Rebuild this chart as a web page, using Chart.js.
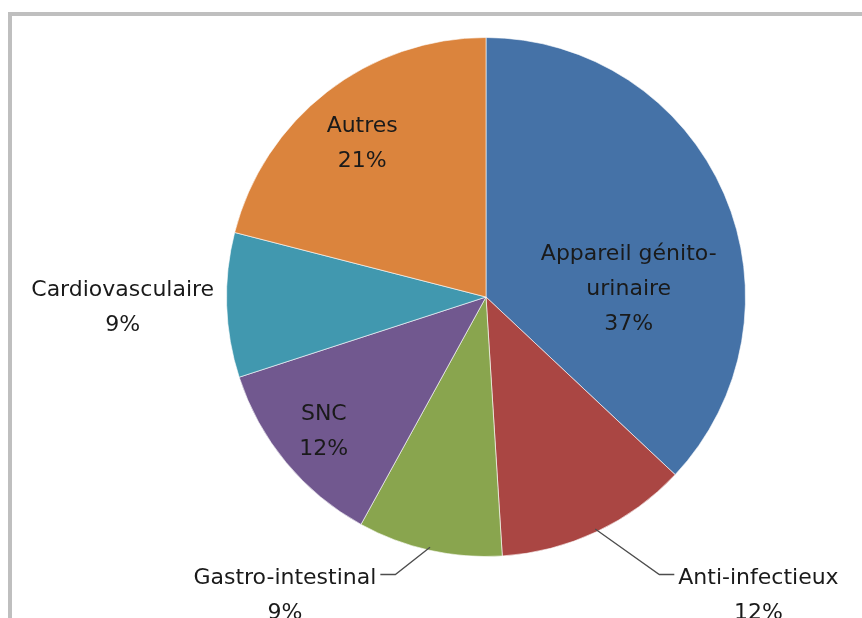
<!DOCTYPE html>
<html>
<head>
<meta charset="utf-8">
<script src="https://cdn.jsdelivr.net/npm/chart.js@4/dist/chart.umd.min.js"></script>
<style>
  html, body { margin: 0; padding: 0; background: #ffffff; }
  canvas { display: block; }
</style>
</head>
<body>
<canvas id="c" width="862" height="618"></canvas>
<script>
// ---- data ----
const categories = ["Appareil génito-urinaire", "Anti-infectieux", "Gastro-intestinal", "SNC", "Cardiovasculaire", "Autres"];
const labelLines = [["Appareil génito-", "urinaire"], ["Anti-infectieux"], ["Gastro-intestinal"], ["SNC"], ["Cardiovasculaire"], ["Autres"]];
const shares = [37, 12, 9, 12, 9, 21];

// ---- styles ----
const colors = ["#4572A7", "#AA4643", "#89A54E", "#71588F", "#4198AF", "#DB843D"];
// label anchor offsets in units of the pie radius, and whether a leader line is drawn
const labelPos = [
  { fx: 0.55, fy: -0.03 },
  { fx: 1.05, fy: 1.15, leader: true },
  { fx: -0.775, fy: 1.15, leader: true },
  { fx: -0.625, fy: 0.52 },
  { fx: -1.4, fy: 0.04 },
  { fx: -0.477, fy: -0.59 }
];
const FONT = '22px "DejaVu Sans", "Open Sans", sans-serif';
const LINE_H = 35;

const framePlugin = {
  id: 'frame',
  beforeDraw(chart) {
    const ctx = chart.ctx;
    ctx.save();
    ctx.fillStyle = '#bfbfbf';
    ctx.fillRect(8, 12, chart.width - 8, 4);
    ctx.fillRect(8, 12, 4, chart.height - 12);
    ctx.restore();
  }
};

const labelPlugin = {
  id: 'sliceLabels',
  afterDatasetsDraw(chart) {
    const ctx = chart.ctx;
    const meta = chart.getDatasetMeta(0);
    const total = shares.reduce((a, b) => a + b, 0);
    ctx.save();
    ctx.font = FONT;
    ctx.fillStyle = '#1a1a1a';
    ctx.textAlign = 'center';
    ctx.textBaseline = 'middle';
    meta.data.forEach((arc, i) => {
      const cx = arc.x, cy = arc.y, r = arc.outerRadius;
      const p = labelPos[i];
      const lx = cx + p.fx * r, ly = cy + p.fy * r;
      const lines = labelLines[i].concat([Math.round(shares[i] / total * 100) + '%']);
      const top = ly - (lines.length - 1) * LINE_H / 2;
      lines.forEach((t, k) => ctx.fillText(t, lx, top + k * LINE_H));
      if (p.leader) {
        const mid = (arc.startAngle + arc.endAngle) / 2;
        const ex = cx + Math.cos(mid) * (r - 3), ey = cy + Math.sin(mid) * (r - 3);
        const w = ctx.measureText(labelLines[i][0]).width;
        const side = p.fx > 0 ? -1 : 1;
        const tx = lx + side * (w / 2 + 4);
        const hx = tx + side * 15;
        const yy = Math.round(top - 4) + 0.5;
        ctx.strokeStyle = '#4d4d4d';
        ctx.lineWidth = 1.3;
        ctx.beginPath();
        ctx.moveTo(ex, ey);
        ctx.lineTo(hx, yy);
        ctx.lineTo(tx, yy);
        ctx.stroke();
      }
    });
    ctx.restore();
  }
};

new Chart(document.getElementById('c'), {
  type: 'pie',
  data: {
    labels: categories,
    datasets: [{
      data: shares,
      backgroundColor: colors,
      borderColor: 'rgba(255,255,255,0.6)',
      borderWidth: 1
    }]
  },
  options: {
    responsive: false,
    animation: false,
    layout: { padding: { left: 226, right: 116, top: 37, bottom: 61 } },
    plugins: {
      legend: { display: false },
      tooltip: { enabled: false }
    }
  },
  plugins: [framePlugin, labelPlugin]
});
</script>
</body>
</html>
